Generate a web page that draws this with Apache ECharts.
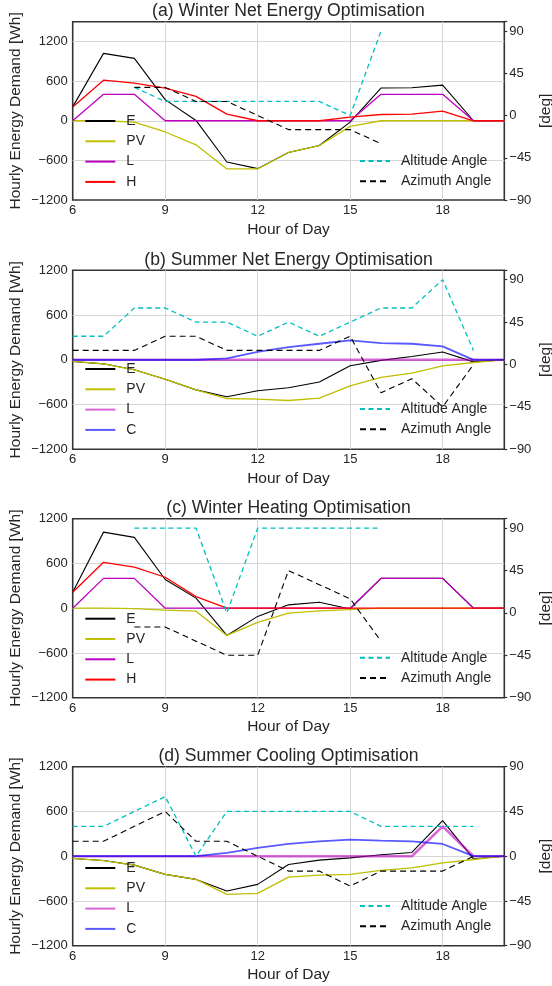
<!DOCTYPE html>
<html><head><meta charset="utf-8">
<script src="https://cdn.jsdelivr.net/npm/echarts/dist/echarts.min.js"></script>
<style>html,body{margin:0;padding:0;background:#fff}#c{width:552px;height:986px}</style>
</head><body><div id="c"></div>
<script>
// ---------- data ----------
const hours = [6,7,8,9,10,11,12,13,14,15,16,17,18,19,20];
const xTicks = [6,9,12,15,18];
const leftTicks = [-1200,-600,0,600,1200];
const rightTicks = [-90,-45,0,45,90];

// (a) Winter Net Energy Optimisation
const E_a   = [210,1020,945,320,5,-625,-725,-480,-375,-20,495,500,540,0,0];
const PV_a  = [0,0,-20,-170,-365,-730,-730,-480,-375,-85,0,0,0,0,0];
const L_a   = [0,400,400,0,0,0,0,0,0,0,400,400,400,0,0];
const H_a   = [210,615,570,495,370,100,0,0,0,55,95,100,145,0,0];
const ALT_a = [null,null,30,15,15,15,15,15,15,0,90,null,null,null,null];
const AZI_a = [null,null,30,30,15,15,0,-15,-15,-15,-30,null,null,null,null];

// (b) Summer Net Energy Optimisation
const E_b   = [-22,-54,-134,-260,-403,-495,-415,-374,-298,-80,-8,45,105,-28,0];
const PV_b  = [-22,-54,-134,-260,-403,-519,-528,-546,-515,-349,-237,-179,-81,-36,0];
const L_b   = [0,0,0,0,0,0,0,0,0,0,0,0,0,0,0];
const C_b   = [0,0,0,0,0,18,107,170,215,260,224,215,179,0,0];
const ALT_b = [30,30,60,60,45,45,30,45,30,45,60,60,90,15,null];
const AZI_b = [15,15,15,30,30,15,15,15,15,30,-30,-15,-45,0,null];

// (c) Winter Heating Optimisation
const E_c   = [215,1020,950,385,135,-365,-110,45,80,-10,400,400,400,0,0];
const PV_c  = [0,0,-5,-25,-40,-365,-190,-65,-35,-18,0,0,0,0,0];
const L_c   = [0,400,400,0,0,0,0,0,0,0,400,400,400,0,0];
const H_c   = [215,615,550,415,155,0,0,0,0,0,0,0,0,0,0];
const ALT_c = [null,null,90,90,90,0,90,90,90,90,90,null,null,null,null];
const AZI_c = [null,null,-15,-15,-30,-45,-45,45,30,15,-30,null,null,null,null];

// (d) Summer Cooling Optimisation
const E_d   = [-30,-58,-120,-244,-311,-467,-378,-111,-53,-22,20,50,476,-35,0];
const PV_d  = [-30,-58,-120,-244,-311,-511,-498,-280,-253,-244,-191,-156,-89,-44,0];
const L_d   = [0,0,0,0,0,0,0,0,0,0,0,0,400,0,0];
const C_d   = [0,0,0,0,0,44,111,164,200,222,209,200,164,0,0];
const ALT_d = [30,30,45,60,0,45,45,45,45,45,30,30,30,30,null];
const AZI_d = [15,15,30,45,15,15,0,-15,-15,-30,-15,-15,-15,0,null];

// ---------- layout / style ----------
const FONT = "'Liberation Sans', Arial, Helvetica, sans-serif";
const TXT = '#262626';
const GL = 72.7, GW = 431.6;
const panels = [
  {id:'a', title:'(a) Winter Net Energy Optimisation', top:21.7, height:178.3, leftMax:1500, rightMax:100,
   lines:[['E',E_a,'#000000',1.1,1],['PV',PV_a,'#bfbf00',1.3,1],['L',L_a,'#bf00bf',1.3,1],['H',H_a,'#ff0000',1.3,1]],
   alt:ALT_a, azi:AZI_a, legL:114, legR:154},
  {id:'b', title:'(b) Summer Net Energy Optimisation', top:270.3, height:179, leftMax:1200, rightMax:100,
   lines:[['E',E_b,'#000000',1.1,1],['PV',PV_b,'#bfbf00',1.3,1],['L',L_b,'#bf00bf',2.6,0.6],['C',C_b,'#0000ff',1.8,0.65]],
   alt:ALT_b, azi:AZI_b, legL:362, legR:402},
  {id:'c', title:'(c) Winter Heating Optimisation', top:518.7, height:179, leftMax:1200, rightMax:100,
   lines:[['E',E_c,'#000000',1.1,1],['PV',PV_c,'#bfbf00',1.3,1],['L',L_c,'#bf00bf',1.3,1],['H',H_c,'#ff0000',1.3,1]],
   alt:ALT_c, azi:AZI_c, legL:611.7, legR:650.7},
  {id:'d', title:'(d) Summer Cooling Optimisation', top:766.7, height:179, leftMax:1200, rightMax:90,
   lines:[['E',E_d,'#000000',1.1,1],['PV',PV_d,'#bfbf00',1.3,1],['L',L_d,'#bf00bf',2.6,0.6],['C',C_d,'#0000ff',1.8,0.65]],
   alt:ALT_d, azi:AZI_d, legL:861, legR:899}
];

function pairs(arr){ const out=[]; arr.forEach((v,i)=>{ if(v!==null) out.push([hours[i],v]); }); return out; }
function fmt(v){ return v<0 ? '\u2212'+Math.abs(v) : String(v); }

const grid=[], xAxis=[], yAxis=[], series=[], legend=[], graphic=[];
panels.forEach((p,i)=>{
  grid.push({left:GL, width:GW, top:p.top, height:p.height, show:true, borderColor:'#333333', borderWidth:1.6,
             backgroundColor:'transparent', containLabel:false, outerBoundsMode:'none'});
  xAxis.push({gridIndex:i, type:'value', min:6, max:20, interval:3,
    axisLine:{show:false}, axisTick:{show:false},
    axisLabel:{margin:4, fontSize:13, color:TXT, fontFamily:FONT, formatter:v=>xTicks.includes(v)?String(v):''},
    splitLine:{show:true, showMinLine:false, showMaxLine:false, lineStyle:{color:'#d6d6d6', width:1}},
    name:'Hour of Day', nameLocation:'middle', nameGap:21.5, nameMoveOverlap:false,
    nameTextStyle:{fontSize:15.5, color:TXT, fontFamily:FONT}});
  yAxis.push({gridIndex:i, type:'value', position:'left', min:-1200, max:p.leftMax, interval:600,
    axisLine:{show:false}, axisTick:{show:false},
    axisLabel:{margin:5, fontSize:13, color:TXT, fontFamily:FONT, formatter:v=>leftTicks.includes(v)?fmt(v):''},
    splitLine:{show:true, showMinLine:false, showMaxLine:false, lineStyle:{color:'#d6d6d6', width:1}},
    name:'Hourly Energy Demand [Wh]', nameLocation:'middle', nameGap:49, nameMoveOverlap:false,
    nameTextStyle:{fontSize:15.5, color:TXT, fontFamily:FONT}});
  yAxis.push({gridIndex:i, type:'value', position:'right', min:-90, max:p.rightMax, interval:45,
    axisLine:{show:false}, axisTick:{show:true, inside:false, length:3, lineStyle:{color:'#333333', width:1.2}},
    axisLabel:{margin:5, fontSize:13, color:TXT, fontFamily:FONT, formatter:v=>rightTicks.includes(v)?fmt(v):''},
    splitLine:{show:false},
    name:'[deg]', nameLocation:'middle', nameGap:33, nameMoveOverlap:false,
    nameTextStyle:{fontSize:15.5, color:TXT, fontFamily:FONT}});
  const leftNames=[];
  p.lines.forEach(([n,arr,col,w,op])=>{
    const name=p.id+'|'+n; leftNames.push(name);
    series.push({name, type:'line', xAxisIndex:i, yAxisIndex:2*i, data:pairs(arr),
      symbol:'none', showSymbol:false, silent:true, animation:false,
      lineStyle:{color:col, width:w, opacity:op}, itemStyle:{color:col, opacity:op}});
  });
  const an=p.id+'|Altitude Angle', zn=p.id+'|Azimuth Angle';
  series.push({name:an, type:'line', xAxisIndex:i, yAxisIndex:2*i+1, data:pairs(p.alt),
    symbol:'none', showSymbol:false, silent:true, animation:false,
    lineStyle:{color:'#00bfbf', width:1.3, type:[5,3.5]}, itemStyle:{color:'#00bfbf'}});
  series.push({name:zn, type:'line', xAxisIndex:i, yAxisIndex:2*i+1, data:pairs(p.azi),
    symbol:'none', showSymbol:false, silent:true, animation:false,
    lineStyle:{color:'#000000', width:1.1, type:[6,4]}, itemStyle:{color:'#000000'}});
  const legCommon={orient:'vertical', itemWidth:30, itemHeight:14, itemGap:6.3, padding:0,
    selectedMode:false, itemStyle:{opacity:0},
    textStyle:{fontSize:14, color:TXT, fontFamily:FONT, lineHeight:14, padding:[0,0,0,6]},
    formatter:n=>n.split('|')[1]};
  legend.push(Object.assign({}, legCommon, {left:84.3, top:p.legL, data:leftNames}));
  legend.push(Object.assign({}, legCommon, {left:359, top:p.legR, data:[an,zn]}));
  graphic.push({type:'text', x:GL+GW/2, y:p.top-10.5, silent:true,
    style:{text:p.title, x:0, y:0, textAlign:'center', textVerticalAlign:'middle', fill:TXT,
      font:'17.6px '+FONT}});
});

const chart = echarts.init(document.getElementById('c'), null, {renderer:'canvas'});
chart.setOption({animation:false, backgroundColor:'#ffffff', grid, xAxis, yAxis, series, legend, graphic,
  tooltip:{show:false}});
</script></body></html>
